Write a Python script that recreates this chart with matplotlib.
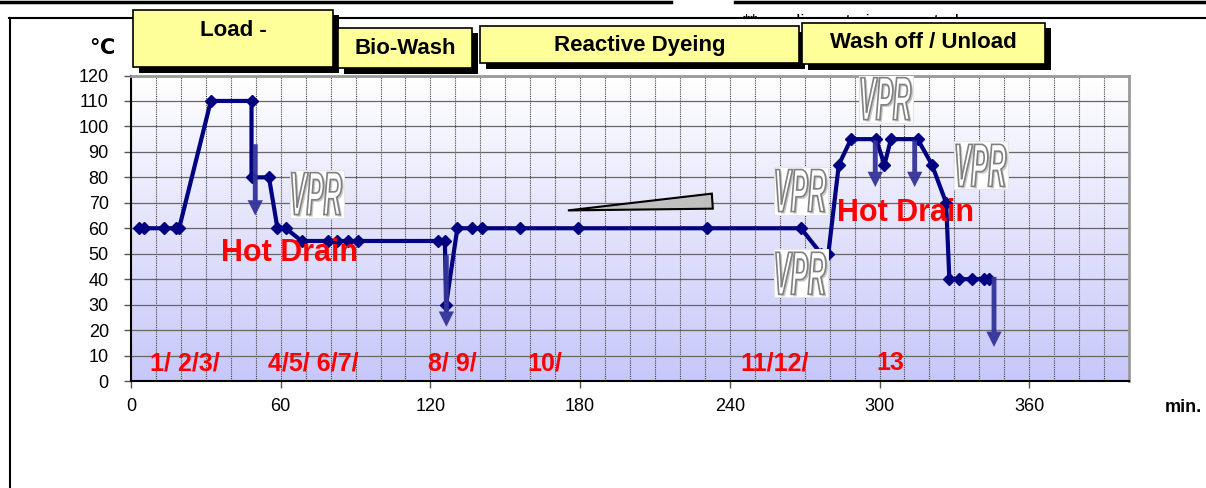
import numpy as np
import matplotlib
matplotlib.use("Agg")
from matplotlib import pyplot as plt
from matplotlib.patches import Rectangle, PathPatch, Polygon
from matplotlib.textpath import TextPath
from matplotlib.font_manager import FontProperties
import matplotlib.transforms as mtransforms

plt.rcParams['font.family'] = ['Liberation Sans', 'DejaVu Sans']

# process curve (minutes, deg C)
time = [3.3, 5.2, 13.3, 18, 19.3, 32, 48.3, 48.3, 55.3, 58.7, 62, 68.4, 79, 82.6, 87, 91,
        123.1, 125.8, 126.3, 130.8, 136.8, 140.7, 156, 179, 230.9, 268.5, 276.6, 279.5,
        283.7, 288.6, 298.6, 302, 304.6, 315.3, 321, 326.7, 328, 332, 337, 341.7, 343.7]
temp = [60, 60, 60, 60, 60, 110, 110, 80, 80, 60, 60, 55, 55, 55, 55, 55,
        55, 55, 30, 60, 60, 60, 60, 60, 60, 60, 50, 50,
        85, 95, 95, 85, 95, 95, 85, 70, 40, 40, 40, 40, 40]

# drain arrows: x, start temp, end temp
drain_x = [49.8, 126.4, 298.3, 314.1, 345.9]
drain_from = [93, 49.4, 94.5, 94.5, 40.9]
drain_to = [65, 21.3, 76.2, 76.2, 13.4]

# step numbers along the bottom
step_labels = ["1/ 2/3/", "4/5/ 6/7/", "8/ 9/", "10/", "11/12/", "13"]
step_x = [21.5, 73, 128.8, 166, 258, 304.5]
step_y = 7

hot_drain_x = [63.5, 310.4]
hot_drain_y = [50.4, 66]

vpr_x = [74.4, 268.5, 268.5, 302.6, 340.7]
vpr_y = [73.6, 74.8, 42.3, 110.9, 84.7]

# cooling gradient wedge
wedge_x = [175.1, 232.8, 233.2]
wedge_y = [67, 73.6, 67.7]

# stage boxes (pixel coords: x0, y0, x1, y1, text y)
stages = ["Load -", "Bio-Wash", "Reactive Dyeing", "Wash off / Unload"]
stage_boxes = [(133, 10, 333, 67, 30), (338, 28, 472, 68, 48),
               (480, 26, 799, 63, 46), (802, 23, 1045, 64, 43)]

W, H = 1206, 488
fig = plt.figure(figsize=(W / 100, H / 100), dpi=100)

def fx(x):
    return x / W

def fy(y):
    return 1 - y / H

# partly hidden note at the top + frame
fig.text(fx(743), fy(27), "**  cooling rate is corrected", fontsize=13, va='baseline',
         ha='left', zorder=-2)
fig.add_artist(Rectangle((fx(9), 0), 1, fy(18), facecolor='white', edgecolor='none',
                         transform=fig.transFigure, zorder=-1))
fig.add_artist(plt.Line2D([fx(0), fx(671)], [fy(1.5), fy(1.5)], color='black', lw=2.5,
                          transform=fig.transFigure))
fig.add_artist(plt.Line2D([fx(735), fx(1206)], [fy(1.5), fy(1.5)], color='black', lw=2.5,
                          transform=fig.transFigure))
fig.add_artist(plt.Line2D([fx(9), fx(1206)], [fy(18), fy(18)], color='black', lw=1.5,
                          transform=fig.transFigure))
fig.add_artist(plt.Line2D([fx(9.5), fx(9.5)], [fy(18), 0], color='black', lw=1.5,
                          transform=fig.transFigure))

ax = fig.add_axes([fx(131), fy(381), fx(1129) - fx(131), fy(75.5) - fy(381)])
ax.set_xlim(0, 400)
ax.set_ylim(0, 120)

# gradient background
grad = np.linspace(0, 1, 256).reshape(-1, 1)
c_top = np.array([1.0, 1.0, 1.0])
c_bot = np.array([0.78, 0.78, 0.98])
img = c_bot[None, None, :] * (1 - grad[:, :, None]) + c_top[None, None, :] * grad[:, :, None]
ax.imshow(img, extent=[0, 400, 0, 120], origin='lower', aspect='auto', zorder=0)

ax.set_xticks(np.arange(0, 361, 60))
ax.set_xticks(np.arange(0, 401, 10), minor=True)
ax.set_yticks(np.arange(0, 121, 10))
ax.tick_params(axis='both', which='major', direction='out', length=5, width=1,
               labelsize=13, color='#555555')
ax.tick_params(axis='x', which='major', pad=7)
ax.tick_params(axis='y', which='major', pad=11)
ax.tick_params(axis='x', which='minor', length=0)
ax.set_axisbelow(True)
ax.grid(axis='y', color='#666666', lw=0.9, ls='-')
ax.grid(axis='x', which='both', color='#444444', lw=0.8, ls=(0, (1, 1)))
for s in ['top', 'right']:
    ax.spines[s].set_color('#999999')
    ax.spines[s].set_linewidth(2)
for s in ['bottom', 'left']:
    ax.spines[s].set_color('black')
    ax.spines[s].set_linewidth(1.5)

# wedge
ax.add_patch(Polygon(list(zip(wedge_x, wedge_y)), closed=True, facecolor='#c0c0c0',
                     edgecolor='black', lw=1.5, zorder=2))

# main curve
ax.plot(time, temp, color='#000080', lw=3, marker='D', markersize=6.5, zorder=4)

# drain arrows
for x, y0, y1 in zip(drain_x, drain_from, drain_to):
    ax.annotate('', xy=(x, y1), xytext=(x, y0),
                arrowprops=dict(facecolor='#333399', edgecolor='none', alpha=0.95,
                                width=3.5, headwidth=11, headlength=11, shrink=0),
                zorder=5)

# VPR stamps
fp = FontProperties(family='Liberation Sans', weight='bold', style='italic')
base = TextPath((0, 0), "VPR", size=40, prop=fp)
bb = base.get_extents()
cx, cy = bb.x0 + bb.width / 2, bb.y0 + bb.height / 2
for x, y in zip(vpr_x, vpr_y):
    off = mtransforms.ScaledTranslation(x, y, ax.transData)
    ax.add_patch(Rectangle((-27, -24), 54, 48, facecolor='white', edgecolor='#e6e6e6',
                           lw=0.8, transform=off, zorder=6))
    sh = mtransforms.Affine2D().translate(-cx, -cy).scale(50 / bb.width, 42 / bb.height)
    ax.add_patch(PathPatch(base, facecolor='#c8c8c8', edgecolor='none',
                           transform=sh + mtransforms.Affine2D().translate(2, -2) + off,
                           zorder=6.5))
    ax.add_patch(PathPatch(base, facecolor='white', edgecolor='#808080', lw=1.2,
                           transform=sh + off, zorder=7))

# red labels
for lab, x in zip(step_labels, step_x):
    ax.text(x, step_y, lab, color='red', fontsize=18, fontweight='bold',
            ha='center', va='center', zorder=8)
for x, y in zip(hot_drain_x, hot_drain_y):
    ax.text(x, y, "Hot Drain", color='red', fontsize=22, fontweight='bold',
            ha='center', va='center', zorder=8)

ax.set_xlim(0, 400)
ax.set_ylim(0, 120)

# stage boxes
for lab, (x0, y0, x1, y1, ty) in zip(stages, stage_boxes):
    fig.add_artist(Rectangle((fx(x0 + 5.5), fy(y1 + 5.5)), fx(x1 - x0), fy(y0) - fy(y1),
                             facecolor='black', edgecolor='none',
                             transform=fig.transFigure, zorder=3))
    fig.add_artist(Rectangle((fx(x0), fy(y1)), fx(x1 - x0), fy(y0) - fy(y1),
                             facecolor='#ffff99', edgecolor='black', lw=1.2,
                             transform=fig.transFigure, zorder=3.1))
    fig.text(fx((x0 + x1) / 2), fy(ty), lab, fontsize=16, fontweight='bold',
             ha='center', va='center', zorder=3.2)

fig.text(fx(102), fy(48), "℃", fontsize=15, fontweight='bold', ha='center', va='center')
fig.text(fx(1183), fy(408), "min.", fontsize=13, fontweight='bold', ha='center', va='center')

fig.savefig("out.png", dpi=100)
